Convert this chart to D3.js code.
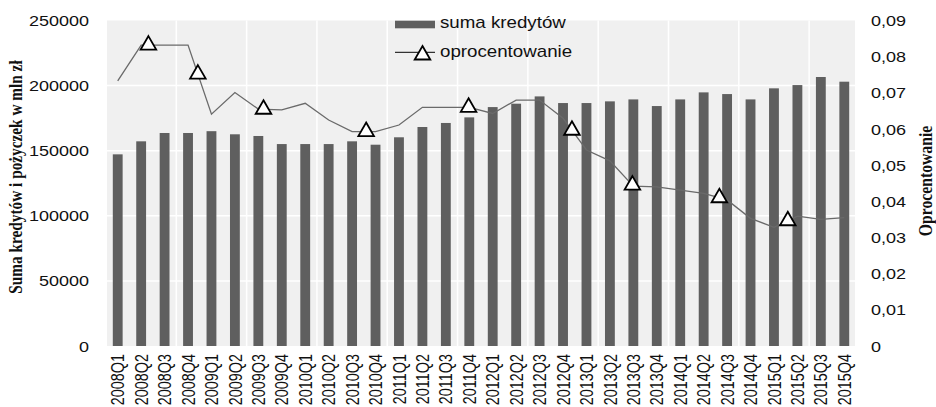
<!DOCTYPE html>
<html lang="pl">
  <head>
    <meta charset="UTF-8" />
    <title>Suma kredytów i oprocentowanie</title>
    <script src="https://cdn.jsdelivr.net/npm/d3@7"></script>
    <style>
      body { margin: 0; background: #fff; }
      text { font-family: "Liberation Sans", Arial, sans-serif; fill: #111; }
    </style>
  </head>
  <body>
    <script>
      // dane
      const quarters = [
        "2008Q1", "2008Q2", "2008Q3", "2008Q4", "2009Q1", "2009Q2", "2009Q3", "2009Q4",
        "2010Q1", "2010Q2", "2010Q3", "2010Q4", "2011Q1", "2011Q2", "2011Q3", "2011Q4",
        "2012Q1", "2012Q2", "2012Q3", "2012Q4", "2013Q1", "2013Q2", "2013Q3", "2013Q4",
        "2014Q1", "2014Q2", "2014Q3", "2014Q4", "2015Q1", "2015Q2", "2015Q3", "2015Q4"
      ];
      const sumaKredytow = [
        147200, 157200, 163600, 163600, 165000, 162600, 161300, 155100,
        155100, 155100, 157200, 154600, 160300, 168200, 171300, 175600,
        183500, 186100, 191700, 186600, 186600, 187900, 189400, 184300,
        189400, 194800, 193500, 189400, 197900, 200400, 206600, 203000
      ];
      const oprocentowanie = [
        0.0733, 0.0832, 0.0832, 0.0832, 0.0641, 0.0701, 0.0655, 0.0653,
        0.0671, 0.0625, 0.0593, 0.0593, 0.0611, 0.0660, 0.0660, 0.0660,
        0.0643, 0.0680, 0.0680, 0.0630, 0.0542, 0.0512, 0.0442, 0.0440,
        0.0431, 0.0422, 0.0404, 0.0353, 0.0328, 0.0359, 0.0350, 0.0355
      ];
      // znaczniki linii (pozycja w kwartałach, nie w każdym punkcie)
      const markerPos = [1.31, 3.42, 6.22, 10.6, 14.97, 19.38, 21.96, 25.67, 28.59];
      const leftTicks = [0, 50000, 100000, 150000, 200000, 250000];
      const rightTicks = [0, 0.01, 0.02, 0.03, 0.04, 0.05, 0.06, 0.07, 0.08, 0.09];

      const width = 936;
      const height = 407;
      const stretch = 1.17; // tekst w oryginale jest rozciągnięty w poziomie
      const barColor = "#5f5f5f";

      const svg = d3
        .select("body")
        .append("svg")
        .attr("width", width)
        .attr("height", height);

      const x = d3
        .scaleBand()
        .domain(quarters)
        .range([106, 856])
        .paddingInner(0.58)
        .paddingOuter(0.29);
      const yLeft = d3.scaleLinear().domain([0, 250000]).range([346, 20.5]);
      const yRight = d3.scaleLinear().domain([0, 0.09]).range([346, 20.5]);
      const cx = (i) => x(quarters[0]) + x.bandwidth() / 2 + i * x.step();

      // tło i siatka
      svg
        .append("rect")
        .attr("x", x.range()[0] + 1)
        .attr("y", yLeft(250000))
        .attr("width", x.range()[1] - x.range()[0] - 2)
        .attr("height", yLeft(0) - yLeft(250000))
        .attr("fill", "#f0f0f0");

      svg
        .append("g")
        .selectAll("line")
        .data(leftTicks.slice(1, -1))
        .join("line")
        .attr("x1", x.range()[0] + 1)
        .attr("x2", x.range()[1] - 1)
        .attr("y1", (d) => yLeft(d))
        .attr("y2", (d) => yLeft(d))
        .attr("stroke", "#fff")
        .attr("stroke-width", 1.5);

      const vGrid = d3.range(3, quarters.length, 3);
      svg
        .append("g")
        .selectAll("line")
        .data(vGrid)
        .join("line")
        .attr("x1", (i) => cx(i) - x.step() / 2)
        .attr("x2", (i) => cx(i) - x.step() / 2)
        .attr("y1", yLeft(250000))
        .attr("y2", yLeft(0))
        .attr("stroke", "#fff")
        .attr("stroke-width", 1.5);

      // słupki
      svg
        .append("g")
        .selectAll("rect")
        .data(sumaKredytow)
        .join("rect")
        .attr("x", (d, i) => x(quarters[i]))
        .attr("y", (d) => yLeft(d))
        .attr("width", x.bandwidth())
        .attr("height", (d) => yLeft(0) - yLeft(d))
        .attr("fill", barColor);

      // linia oprocentowania
      const line = d3
        .line()
        .x((d, i) => cx(i))
        .y((d) => yRight(d));
      svg
        .append("path")
        .datum(oprocentowanie)
        .attr("fill", "none")
        .attr("stroke", "#6a6a6a")
        .attr("stroke-width", 1.3)
        .attr("d", line);

      const rateAt = (p) => {
        const i = Math.floor(p);
        const t = p - i;
        return oprocentowanie[i] * (1 - t) + oprocentowanie[i + 1] * t;
      };
      const tri = d3.symbol().type(d3.symbolTriangle).size(105);
      svg
        .append("g")
        .selectAll("path")
        .data(markerPos)
        .join("path")
        .attr("transform", (p) => `translate(${cx(p)},${yRight(rateAt(p))})`)
        .attr("d", tri)
        .attr("fill", "#fff")
        .attr("stroke", "#000")
        .attr("stroke-width", 1.8);

      // osie
      const fmtRate = (d) => (d === 0 ? "0" : d3.format(".2f")(d).replace(".", ","));

      const gLeft = svg
        .append("g")
        .attr("transform", `translate(${x.range()[0]},0)`)
        .call(d3.axisLeft(yLeft).tickValues(leftTicks).tickSize(0).tickFormat(d3.format("d")));
      gLeft.select(".domain").remove();
      gLeft
        .selectAll("text")
        .attr("x", null)
        .attr("dy", null)
        .attr("dominant-baseline", "central")
        .attr("transform", `translate(-17,0) scale(${stretch},1)`)
        .style("font-size", "15.4px")
        .style("font-family", "'Liberation Sans', Arial, sans-serif")
        .attr("fill", "#111");

      const gRight = svg
        .append("g")
        .attr("transform", `translate(${x.range()[1]},0)`)
        .call(d3.axisRight(yRight).tickValues(rightTicks).tickSize(0).tickFormat(fmtRate));
      gRight.select(".domain").remove();
      gRight
        .selectAll("text")
        .attr("x", null)
        .attr("dy", null)
        .attr("dominant-baseline", "central")
        .attr("transform", `translate(15,0) scale(${stretch},1)`)
        .style("font-size", "15.4px")
        .style("font-family", "'Liberation Sans', Arial, sans-serif")
        .attr("fill", "#111");

      const gBottom = svg
        .append("g")
        .attr("transform", `translate(0,${yLeft(0)})`)
        .call(d3.axisBottom(x).tickSize(0));
      gBottom.select(".domain").remove();
      gBottom
        .selectAll("text")
        .attr("x", null)
        .attr("y", null)
        .attr("dy", null)
        .attr("text-anchor", "end")
        .attr("dominant-baseline", "central")
        .attr("transform", "translate(0,8) rotate(-90) scale(1,1.24)")
        .style("font-size", "14.4px")
        .style("font-family", "'Liberation Sans', Arial, sans-serif")
        .attr("fill", "#111");

      // tytuły osi
      svg
        .append("text")
        .attr("transform", `translate(16,177) rotate(-90) scale(1,${stretch})`)
        .attr("text-anchor", "middle")
        .attr("dominant-baseline", "central")
        .style("font-family", "'Liberation Serif', 'Times New Roman', serif")
        .style("font-weight", "bold")
        .style("font-size", "15.3px")
        .text("Suma kredytów i pożyczek w mln zł");

      svg
        .append("text")
        .attr("transform", `translate(926,181) rotate(-90) scale(1,${stretch})`)
        .attr("text-anchor", "middle")
        .attr("dominant-baseline", "central")
        .style("font-family", "'Liberation Serif', 'Times New Roman', serif")
        .style("font-weight", "bold")
        .style("font-size", "15.7px")
        .text("Oprocentowanie");

      // legenda
      const legend = svg.append("g");
      legend
        .append("rect")
        .attr("x", 395)
        .attr("y", 20.7)
        .attr("width", 40)
        .attr("height", 7.6)
        .attr("fill", barColor);
      legend
        .append("text")
        .attr("transform", `translate(440,28.3) scale(${stretch},1)`)
        .style("font-size", "16px")
        .text("suma kredytów");
      legend
        .append("line")
        .attr("x1", 395)
        .attr("x2", 435)
        .attr("y1", 52.3)
        .attr("y2", 52.3)
        .attr("stroke", "#333")
        .attr("stroke-width", 1.2);
      legend
        .append("path")
        .attr("transform", "translate(422.5,55)")
        .attr("d", tri)
        .attr("fill", "#fff")
        .attr("stroke", "#000")
        .attr("stroke-width", 1.8);
      legend
        .append("text")
        .attr("transform", `translate(440,56.7) scale(${stretch},1)`)
        .style("font-size", "16px")
        .text("oprocentowanie");
    </script>
  </body>
</html>
